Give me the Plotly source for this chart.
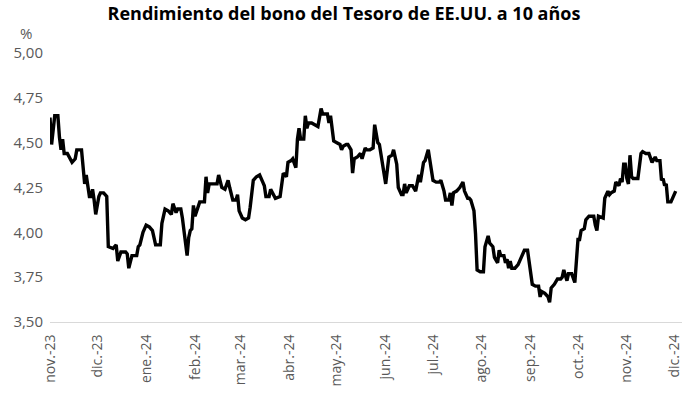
import plotly.graph_objects as go

dates = [
"2023-11-01","2023-11-02","2023-11-04","2023-11-06","2023-11-07","2023-11-08","2023-11-09","2023-11-10","2023-11-12","2023-11-15",
"2023-11-17","2023-11-18","2023-11-21","2023-11-22","2023-11-23","2023-11-24","2023-11-25","2023-11-26","2023-11-27","2023-11-28",
"2023-11-29","2023-11-30","2023-12-02","2023-12-03","2023-12-05","2023-12-07","2023-12-08","2023-12-10","2023-12-11","2023-12-13",
"2023-12-14","2023-12-16","2023-12-19","2023-12-20","2023-12-21","2023-12-23","2023-12-26","2023-12-27","2023-12-28","2023-12-30",
"2024-01-01","2024-01-03","2024-01-05","2024-01-07","2024-01-10","2024-01-11","2024-01-13","2024-01-15","2024-01-17","2024-01-18",
"2024-01-20","2024-01-21","2024-01-23","2024-01-24","2024-01-26","2024-01-27","2024-01-28","2024-01-29","2024-01-30","2024-01-31",
"2024-02-01","2024-02-03","2024-02-04","2024-02-07","2024-02-08","2024-02-09","2024-02-10","2024-02-13","2024-02-15","2024-02-16",
"2024-02-18","2024-02-20","2024-02-22","2024-02-23","2024-02-25","2024-02-27","2024-02-28","2024-02-29","2024-03-02","2024-03-04",
"2024-03-06","2024-03-07","2024-03-09","2024-03-11","2024-03-13","2024-03-15","2024-03-16","2024-03-17","2024-03-19","2024-03-20",
"2024-03-22","2024-03-23","2024-03-26","2024-03-27","2024-03-28","2024-03-30","2024-03-31","2024-04-02","2024-04-03","2024-04-05",
"2024-04-06","2024-04-07","2024-04-08","2024-04-10","2024-04-11","2024-04-12","2024-04-13","2024-04-15","2024-04-17","2024-04-19",
"2024-04-21","2024-04-22","2024-04-25","2024-04-26","2024-04-27","2024-04-29","2024-05-01","2024-05-03","2024-05-04","2024-05-05",
"2024-05-07","2024-05-08","2024-05-10","2024-05-11","2024-05-12","2024-05-14","2024-05-16","2024-05-17","2024-05-19","2024-05-20",
"2024-05-22","2024-05-24","2024-05-25","2024-05-27","2024-05-28","2024-05-30","2024-05-31","2024-06-01","2024-06-03","2024-06-05",
"2024-06-06","2024-06-08","2024-06-09","2024-06-11","2024-06-12","2024-06-13","2024-06-14","2024-06-16","2024-06-18","2024-06-20",
"2024-06-22","2024-06-23","2024-06-25","2024-06-26","2024-06-28","2024-06-29","2024-06-30","2024-07-01","2024-07-03","2024-07-05",
"2024-07-06","2024-07-08","2024-07-09","2024-07-11","2024-07-12","2024-07-13","2024-07-14","2024-07-16","2024-07-18","2024-07-20",
"2024-07-21","2024-07-23","2024-07-24","2024-07-25","2024-07-27","2024-07-28","2024-07-29","2024-07-31","2024-08-02","2024-08-03",
"2024-08-05","2024-08-06","2024-08-08","2024-08-09","2024-08-11","2024-08-12","2024-08-13","2024-08-15","2024-08-16","2024-08-17",
"2024-08-18","2024-08-19","2024-08-20","2024-08-22","2024-08-24","2024-08-25","2024-08-27","2024-08-28","2024-08-30","2024-08-31",
"2024-09-01","2024-09-02","2024-09-04","2024-09-06","2024-09-07","2024-09-08","2024-09-10","2024-09-12","2024-09-13","2024-09-14",
"2024-09-16","2024-09-18","2024-09-20","2024-09-21","2024-09-22","2024-09-24","2024-09-25","2024-09-26","2024-09-27","2024-09-29",
"2024-09-30","2024-10-01","2024-10-02","2024-10-03","2024-10-05","2024-10-06","2024-10-08","2024-10-09","2024-10-11","2024-10-12",
"2024-10-13","2024-10-14","2024-10-16","2024-10-17","2024-10-18","2024-10-20","2024-10-21","2024-10-22","2024-10-24","2024-10-25",
"2024-10-27","2024-10-28","2024-10-29","2024-10-30","2024-10-31","2024-11-01","2024-11-02","2024-11-03","2024-11-04","2024-11-05",
"2024-11-08","2024-11-10","2024-11-11","2024-11-13","2024-11-15","2024-11-16","2024-11-17","2024-11-19","2024-11-20","2024-11-22",
"2024-11-23","2024-11-24","2024-11-25","2024-11-26","2024-11-27","2024-11-29","2024-11-30","2024-12-01","2024-12-02",
]

yields = [
4.64,4.49,4.65,4.65,4.53,4.46,4.52,4.44,4.44,4.39,
4.41,4.46,4.46,4.36,4.27,4.32,4.25,4.20,4.20,4.24,
4.18,4.10,4.20,4.22,4.22,4.20,3.92,3.91,3.91,3.93,
3.84,3.89,3.89,3.88,3.80,3.87,3.87,3.92,3.93,4.00,
4.04,4.03,4.01,3.93,3.93,4.05,4.13,4.12,4.10,4.16,
4.11,4.13,4.13,4.08,3.96,3.87,3.97,4.01,4.02,4.15,
4.09,4.15,4.17,4.17,4.31,4.22,4.27,4.27,4.27,4.32,
4.25,4.24,4.29,4.25,4.18,4.18,4.21,4.12,4.08,4.07,
4.08,4.14,4.29,4.31,4.32,4.28,4.26,4.20,4.20,4.24,
4.21,4.19,4.20,4.28,4.33,4.31,4.39,4.40,4.41,4.36,
4.52,4.58,4.52,4.52,4.65,4.58,4.61,4.61,4.60,4.59,
4.69,4.66,4.66,4.61,4.65,4.51,4.50,4.49,4.46,4.48,
4.49,4.49,4.46,4.33,4.41,4.42,4.44,4.41,4.47,4.46,
4.46,4.47,4.60,4.50,4.49,4.38,4.31,4.27,4.42,4.43,
4.46,4.38,4.25,4.21,4.21,4.27,4.22,4.26,4.26,4.23,
4.32,4.28,4.39,4.40,4.46,4.40,4.35,4.29,4.28,4.28,
4.29,4.23,4.18,4.18,4.22,4.15,4.22,4.23,4.25,4.28,
4.23,4.19,4.19,4.18,4.12,3.99,3.79,3.78,3.78,3.92,
3.98,3.94,3.92,3.86,3.83,3.90,3.87,3.87,3.83,3.85,
3.80,3.84,3.80,3.80,3.82,3.84,3.88,3.90,3.90,3.84,
3.77,3.71,3.70,3.70,3.64,3.67,3.66,3.64,3.61,3.69,
3.71,3.74,3.74,3.75,3.79,3.73,3.77,3.77,3.77,3.72,
3.86,3.96,3.96,4.01,4.02,4.07,4.09,4.09,4.09,4.04,
4.01,4.09,4.08,4.08,4.19,4.23,4.21,4.22,4.23,4.28,
4.26,4.30,4.28,4.38,4.38,4.30,4.27,4.43,4.31,4.30,
4.30,4.44,4.45,4.44,4.44,4.41,4.39,4.42,4.40,4.40,
4.29,4.30,4.26,4.27,4.17,4.17,4.19,4.22,4.23,
]

tick_dates = ["2023-11-01","2023-12-01","2024-01-01","2024-02-01","2024-03-01","2024-04-01","2024-05-01",
              "2024-06-01","2024-07-01","2024-08-01","2024-09-01","2024-10-01","2024-11-01","2024-12-01"]
tick_labels = ["nov.-23","dic.-23","ene.-24","feb.-24","mar.-24","abr.-24","may.-24",
               "jun.-24","jul.-24","ago.-24","sep.-24","oct.-24","nov.-24","dic.-24"]
y_ticks = [3.50, 3.75, 4.00, 4.25, 4.50, 4.75, 5.00]

title_text = "Rendimiento del bono del Tesoro de EE.UU. a 10 años"
unit_text = "%"

fig = go.Figure()
fig.add_trace(go.Scatter(
    x=dates, y=yields, mode="lines",
    line=dict(color="#000000", width=3.4),
    hoverinfo="skip", showlegend=False,
))

font_family = "Open Sans, Liberation Sans, sans-serif"
plot_h = 396 - 53 - 74
plot_w = 688 - 50 - 6
fig.update_layout(
    width=688, height=396,
    margin=dict(l=50, r=6, t=53, b=74, autoexpand=False),
    paper_bgcolor="white", plot_bgcolor="white",
    separators=",.",
    title=dict(text="<b>" + title_text + "</b>", x=0.5, xanchor="center",
               y=1 - 14 / 396, yanchor="middle", yref="container",
               font=dict(family=font_family, size=18, color="#000000")),
    xaxis=dict(
        type="date", range=["2023-11-01", "2024-12-06"],
        tickmode="array", tickvals=tick_dates, ticktext=tick_labels,
        tickangle=-90, tickfont=dict(family=font_family, size=14, color="#595959"),
        showgrid=False, zeroline=False, showline=True, linecolor="#d9d9d9", linewidth=1,
        ticks="", ticklabelstandoff=6,
    ),
    yaxis=dict(
        range=[3.5, 5.0], tickmode="array", tickvals=y_ticks, tickformat=".2f",
        tickfont=dict(family=font_family, size=15, color="#595959"),
        showgrid=False, zeroline=False, showline=False, ticks="", ticklabelstandoff=6,
    ),
    annotations=[dict(text=unit_text, xref="paper", yref="paper",
                      x=-24 / plot_w, y=1 + 20 / plot_h, xanchor="center", yanchor="middle",
                      showarrow=False, font=dict(family=font_family, size=15, color="#595959"))],
)

fig.write_html("out.html", config={"displayModeBar": False},
               post_script="document.body.style.margin='0';")
